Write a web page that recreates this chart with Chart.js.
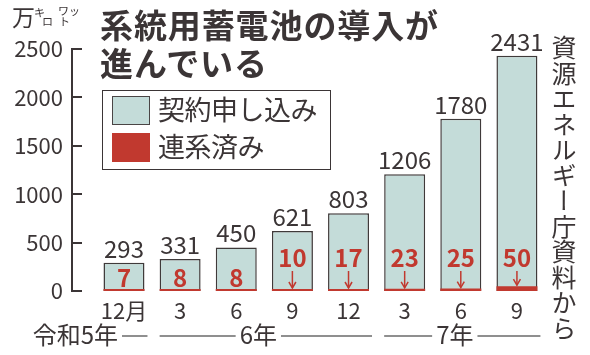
<!DOCTYPE html>
<html><head><meta charset="utf-8">
<script src="https://cdn.jsdelivr.net/npm/chart.js@4.4.1/dist/chart.umd.min.js"></script>
<style>
html,body{margin:0;padding:0;background:#fff;}
#wrap{position:relative;width:590px;height:355px;overflow:hidden;font-family:"Noto Sans CJK JP","Noto Sans",sans-serif;color:#3b3536;}
#c{position:absolute;left:0;top:0;}
.title{position:absolute;left:100px;top:5px;font-size:33px;font-weight:700;line-height:38px;letter-spacing:0.9px;white-space:nowrap;}
.legend{position:absolute;left:102px;top:90px;width:229px;height:80px;border:1.5px solid #3b3536;box-sizing:border-box;background:#fff;}
.li{position:absolute;left:9px;height:30px;font-size:27px;line-height:30px;white-space:nowrap;letter-spacing:-0.5px;}
.sw{position:absolute;left:0;top:0;width:38px;height:29px;box-sizing:border-box;}
.li span.t{position:absolute;left:46px;top:-2px;}
.unit{position:absolute;left:12px;top:1px;font-size:23px;line-height:30px;}
.sm{position:absolute;font-size:11px;line-height:11px;}
.src{position:absolute;left:550px;top:35px;writing-mode:vertical-rl;font-size:25px;line-height:28px;letter-spacing:0.5px;white-space:nowrap;}
</style></head>
<body>
<div id="wrap">
<canvas id="c" width="590" height="355"></canvas>
<div class="title">系統用蓄電池の導入が<br>進んでいる</div>
<div class="legend">
  <div class="li" style="top:5px"><div class="sw" style="background:#c4dcd9;border:1px solid #4a4545"></div><span class="t">契約申し込み</span></div>
  <div class="li" style="top:42px"><div class="sw" style="background:#c1392f"></div><span class="t">連系済み</span></div>
</div>
<div class="unit">万</div>
<div class="sm" style="left:34px;top:7px">キ</div>
<div class="sm" style="left:42px;top:16px">ロ</div>
<div class="sm" style="left:58px;top:5px">ワッ</div>
<div class="sm" style="left:59px;top:16px">ト</div>
<div class="src">資源エネルギー庁資料から</div>
</div>
<script>
const periods = ['12月', '3', '6', '9', '12', '3', '6', '9'];
const applied = [293, 331, 450, 621, 803, 1206, 1780, 2431];
const connected = [7, 8, 8, 10, 17, 23, 25, 50];
const yTicks = [0, 500, 1000, 1500, 2000, 2500];
const yearLabels = ['令和5年', '6年', '7年'];
const yearStart = [0, 1, 5];
const yearEnd = [0, 4, 7];

const FAMILY = '"Noto Sans CJK JP", "Noto Sans", sans-serif';
const TEXT = '#3b3536';
const CYAN = '#c4dcd9';
const RED = '#c1392f';

const annot = {
  id: 'annot',
  afterDatasetsDraw(chart) {
    const ctx = chart.ctx, xs = chart.scales.x, ys = chart.scales.y;
    const zero = ys.getPixelForValue(0);
    const area = chart.chartArea;
    const meta = chart.getDatasetMeta(0);
    ctx.save();
    // inward y ticks
    ctx.strokeStyle = TEXT; ctx.lineWidth = 2;
    yTicks.forEach(v => {
      const y = Math.round(ys.getPixelForValue(v));
      ctx.beginPath(); ctx.moveTo(area.left - 1, y); ctx.lineTo(area.left + 10, y); ctx.stroke();
    });
    // totals
    ctx.fillStyle = TEXT; ctx.textAlign = 'center'; ctx.textBaseline = 'alphabetic';
    ctx.font = '24px ' + FAMILY;
    applied.forEach((v, i) => {
      ctx.fillText(String(v), xs.getPixelForValue(i), ys.getPixelForValue(v) - 5);
    });
    // connected labels + arrows
    ctx.font = 'bold 24px ' + FAMILY;
    ctx.fillStyle = RED; ctx.strokeStyle = RED; ctx.lineWidth = 1.5;
    connected.forEach((v, i) => {
      const x = xs.getPixelForValue(i);
      const barH = zero - ys.getPixelForValue(applied[i]);
      if (barH > 55) {
        const base = zero - 24;
        ctx.fillText(String(v), x, base);
        const y0 = base + 4;
        const y1 = Math.min(zero - 3, ys.getPixelForValue(v) - 1);
        ctx.beginPath(); ctx.moveTo(x, y0); ctx.lineTo(x, y1); ctx.stroke();
        ctx.beginPath(); ctx.moveTo(x - 3.5, y1 - 6); ctx.lineTo(x, y1); ctx.lineTo(x + 3.5, y1 - 6); ctx.stroke();
      } else {
        ctx.fillText(String(v), x, zero - 4);
      }
    });
    // year row
    ctx.font = '24px ' + FAMILY;
    ctx.fillStyle = TEXT; ctx.textBaseline = 'middle';
    ctx.strokeStyle = '#8f8f8f'; ctx.lineWidth = 2;
    const yRow = 335;
    const half = meta.data[0].width / 2;
    yearLabels.forEach((lab, g) => {
      const sL = xs.getPixelForValue(yearStart[g]) - half;
      const sR = xs.getPixelForValue(yearEnd[g]) + half;
      const w = ctx.measureText(lab).width;
      let tL, tR;
      if (w + 16 > sR - sL) {
        tR = xs.getPixelForValue(yearStart[g]) - 6; tL = tR - w;
      } else {
        const c = (sL + sR) / 2 - 6; tL = c - w / 2; tR = c + w / 2;
      }
      ctx.textAlign = 'left';
      ctx.fillText(lab, tL, yRow);
      if (tL - 4 - sL > 2) { ctx.beginPath(); ctx.moveTo(sL, yRow + 1); ctx.lineTo(tL - 4, yRow + 1); ctx.stroke(); }
      if (sR + 3 - (tR + 4) > 2) { ctx.beginPath(); ctx.moveTo(tR + 4, yRow + 1); ctx.lineTo(sR + 3, yRow + 1); ctx.stroke(); }
    });
    ctx.restore();
  }
};

new Chart(document.getElementById('c'), {
  type: 'bar',
  data: {
    datasets: [
      {
        label: '契約申し込み',
        data: applied.map((v, i) => ({ x: i, y: v })),
        backgroundColor: CYAN, borderColor: '#3f3a3a', borderWidth: 1.5, borderSkipped: 'bottom',
        grouped: false, order: 1, barPercentage: 0.73, categoryPercentage: 1
      },
      {
        label: '連系済み',
        data: connected.map((v, i) => ({ x: i, y: v })),
        backgroundColor: RED, borderWidth: 0, minBarLength: 2,
        grouped: false, order: 0, barPercentage: 0.73, categoryPercentage: 1
      }
    ]
  },
  options: {
    responsive: false, animation: false, devicePixelRatio: 1,
    layout: { padding: { top: 49, right: 45, left: 0, bottom: 0 } },
    plugins: { legend: { display: false }, tooltip: { enabled: false } },
    scales: {
      x: {
        type: 'linear', min: -0.926, max: 7.5, offset: false,
        afterBuildTicks: s => { s.ticks = periods.map((_, i) => ({ value: i })); },
        afterFit: s => { s.height = 64; },
        ticks: { callback: v => periods[v] ?? '', autoSkip: false, maxRotation: 0, padding: 6,
                 font: { size: 22, family: FAMILY }, color: TEXT },
        grid: { display: false, drawTicks: false },
        border: { display: false }
      },
      y: {
        min: 0, max: 2500,
        afterBuildTicks: s => { s.ticks = yTicks.map(v => ({ value: v })); },
        afterFit: s => { s.width = 72; },
        ticks: { callback: v => String(v), padding: 9, font: { size: 22, family: FAMILY }, color: TEXT },
        grid: { display: false, drawTicks: false },
        border: { display: true, color: TEXT, width: 2 }
      }
    }
  },
  plugins: [annot]
});
</script>
</body></html>
